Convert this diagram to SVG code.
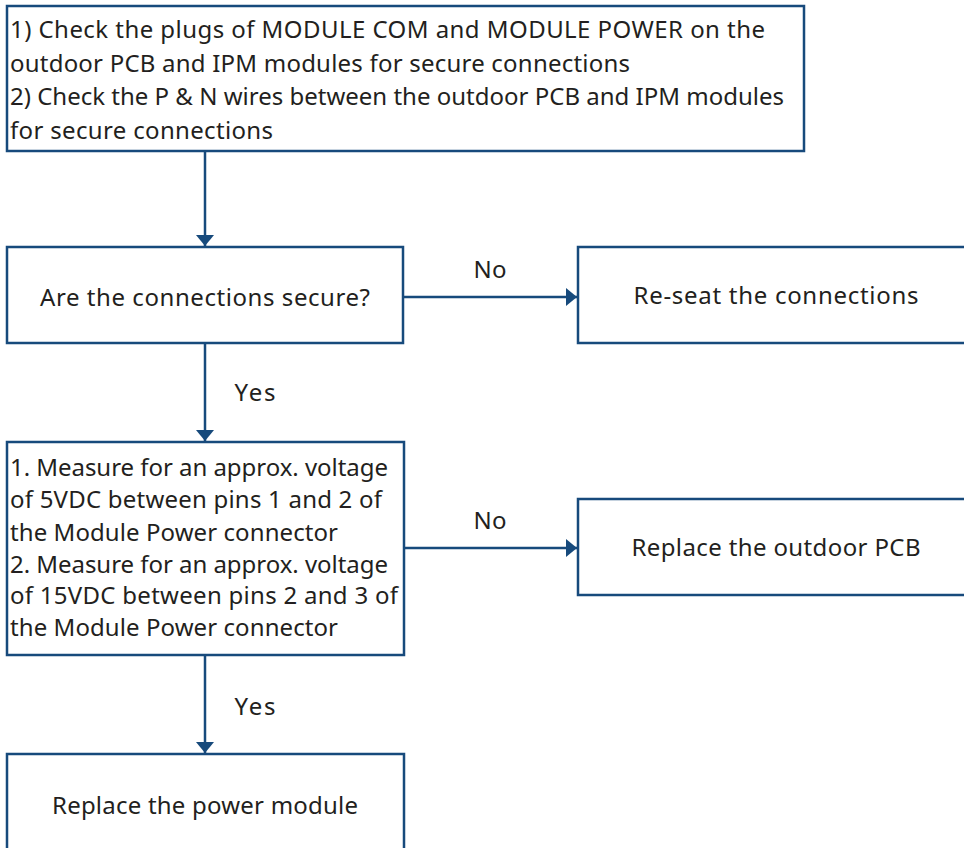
<svg xmlns="http://www.w3.org/2000/svg" width="964" height="848" viewBox="0 0 964 848">
<defs>
<marker id="ah" markerWidth="14" markerHeight="20" refX="11" refY="10" orient="auto" markerUnits="userSpaceOnUse">
<path d="M0,1 L11,10 L0,19 Z" fill="#174a7c"/>
</marker>
<style>
.box{fill:#fff;stroke:#174a7c;stroke-width:2.5}
.t{font-family:"Noto Sans","Open Sans","Liberation Sans",sans-serif;font-size:24px;fill:#231f20}
.c{text-anchor:middle}
.ln{stroke:#174a7c;stroke-width:2.5;fill:none}
</style>
</defs>
<rect width="964" height="848" fill="#fff"/>
<g id="connectors">
<line class="ln" x1="205" y1="151" x2="205" y2="246" marker-end="url(#ah)"/>
<line class="ln" x1="403" y1="297" x2="577" y2="297" marker-end="url(#ah)"/>
<line class="ln" x1="205" y1="343" x2="205" y2="441" marker-end="url(#ah)"/>
<line class="ln" x1="404" y1="548" x2="577" y2="548" marker-end="url(#ah)"/>
<line class="ln" x1="205" y1="655" x2="205" y2="753" marker-end="url(#ah)"/>
<text class="t c" x="490" y="278" textLength="33" lengthAdjust="spacing">No</text>
<text class="t c" x="255" y="401" textLength="41" lengthAdjust="spacing">Yes</text>
<text class="t c" x="490" y="529" textLength="33" lengthAdjust="spacing">No</text>
<text class="t c" x="255" y="715" textLength="41" lengthAdjust="spacing">Yes</text>
</g>
<g id="n1">
<rect class="box" x="7" y="6" width="797" height="145"/>
<text class="t" x="10" y="38" textLength="755" lengthAdjust="spacing">1) Check the plugs of MODULE COM and MODULE POWER on the</text>
<text class="t" x="10" y="72" textLength="620" lengthAdjust="spacing">outdoor PCB and IPM modules for secure connections</text>
<text class="t" x="10" y="105" textLength="774" lengthAdjust="spacing">2) Check the P &amp; N wires between the outdoor PCB and IPM modules</text>
<text class="t" x="10" y="139" textLength="263" lengthAdjust="spacing">for secure connections</text>
</g>
<g id="n2">
<rect class="box" x="7" y="247" width="396" height="96"/>
<text class="t c" x="205" y="306" textLength="330" lengthAdjust="spacing">Are the connections secure?</text>
</g>
<g id="n3">
<rect class="box" x="578" y="247" width="400" height="96"/>
<text class="t c" x="776" y="304" textLength="285" lengthAdjust="spacing">Re-seat the connections</text>
</g>
<g id="n4">
<rect class="box" x="7" y="442" width="397" height="213"/>
<text class="t" x="10" y="476" textLength="378" lengthAdjust="spacing">1. Measure for an approx. voltage</text>
<text class="t" x="10" y="508" textLength="372" lengthAdjust="spacing">of 5VDC between pins 1 and 2 of</text>
<text class="t" x="10" y="541" textLength="328" lengthAdjust="spacing">the Module Power connector</text>
<text class="t" x="10" y="573" textLength="378" lengthAdjust="spacing">2. Measure for an approx. voltage</text>
<text class="t" x="10" y="604" textLength="388" lengthAdjust="spacing">of 15VDC between pins 2 and 3 of</text>
<text class="t" x="10" y="636" textLength="328" lengthAdjust="spacing">the Module Power connector</text>
</g>
<g id="n5">
<rect class="box" x="578" y="499" width="400" height="96"/>
<text class="t c" x="776" y="556" textLength="289" lengthAdjust="spacing">Replace the outdoor PCB</text>
</g>
<g id="n6">
<rect class="box" x="7" y="754" width="397" height="100"/>
<text class="t c" x="205" y="814" textLength="306" lengthAdjust="spacing">Replace the power module</text>
</g>
</svg>
